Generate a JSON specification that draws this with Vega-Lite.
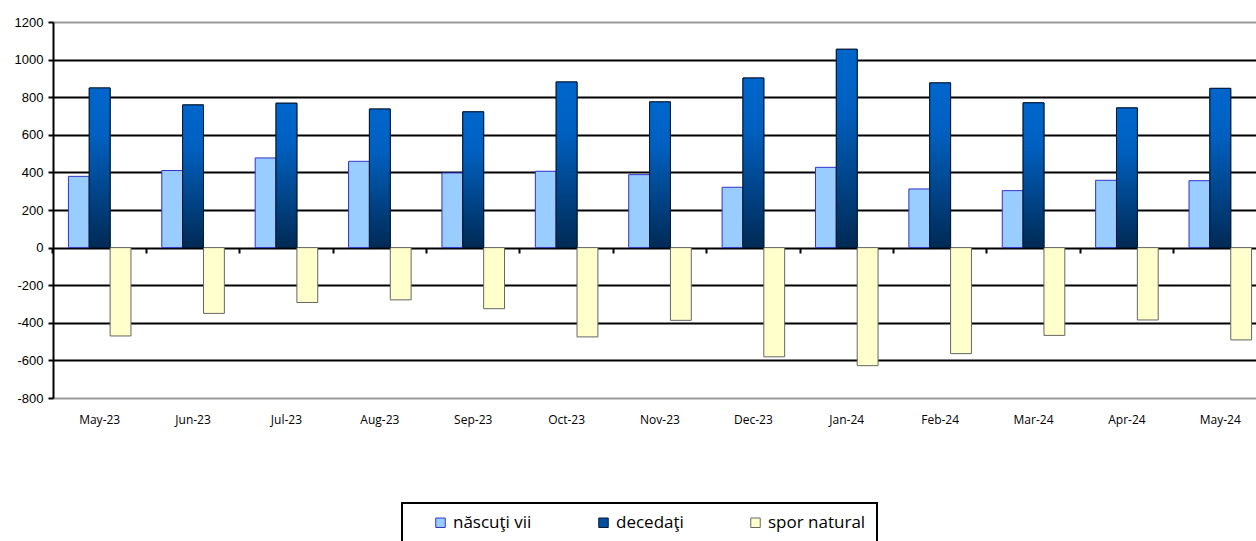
{
  "$schema": "https://vega.github.io/schema/vega-lite/v6.json",
  "autosize": {"type": "none"},
  "padding": {"left": 53, "top": 22, "right": 0, "bottom": 143},
  "width": 1214,
  "height": 376,
  "background": "white",
  "config": {"view": {"stroke": null}},
  "data": {
    "values": [
      {"month": "May-23", "series": "născuţi vii", "value": 379},
      {"month": "May-23", "series": "decedaţi", "value": 849},
      {"month": "May-23", "series": "spor natural", "value": -470},
      {"month": "Jun-23", "series": "născuţi vii", "value": 410},
      {"month": "Jun-23", "series": "decedaţi", "value": 759},
      {"month": "Jun-23", "series": "spor natural", "value": -350},
      {"month": "Jul-23", "series": "născuţi vii", "value": 477},
      {"month": "Jul-23", "series": "decedaţi", "value": 768},
      {"month": "Jul-23", "series": "spor natural", "value": -292},
      {"month": "Aug-23", "series": "născuţi vii", "value": 459},
      {"month": "Aug-23", "series": "decedaţi", "value": 737},
      {"month": "Aug-23", "series": "spor natural", "value": -278},
      {"month": "Sep-23", "series": "născuţi vii", "value": 397},
      {"month": "Sep-23", "series": "decedaţi", "value": 722},
      {"month": "Sep-23", "series": "spor natural", "value": -325},
      {"month": "Oct-23", "series": "născuţi vii", "value": 406},
      {"month": "Oct-23", "series": "decedaţi", "value": 881},
      {"month": "Oct-23", "series": "spor natural", "value": -475},
      {"month": "Nov-23", "series": "născuţi vii", "value": 388},
      {"month": "Nov-23", "series": "decedaţi", "value": 775},
      {"month": "Nov-23", "series": "spor natural", "value": -387},
      {"month": "Dec-23", "series": "născuţi vii", "value": 321},
      {"month": "Dec-23", "series": "decedaţi", "value": 902},
      {"month": "Dec-23", "series": "spor natural", "value": -581},
      {"month": "Jan-24", "series": "născuţi vii", "value": 427},
      {"month": "Jan-24", "series": "decedaţi", "value": 1055},
      {"month": "Jan-24", "series": "spor natural", "value": -628},
      {"month": "Feb-24", "series": "născuţi vii", "value": 312},
      {"month": "Feb-24", "series": "decedaţi", "value": 876},
      {"month": "Feb-24", "series": "spor natural", "value": -564},
      {"month": "Mar-24", "series": "născuţi vii", "value": 303},
      {"month": "Mar-24", "series": "decedaţi", "value": 770},
      {"month": "Mar-24", "series": "spor natural", "value": -467},
      {"month": "Apr-24", "series": "născuţi vii", "value": 358},
      {"month": "Apr-24", "series": "decedaţi", "value": 743},
      {"month": "Apr-24", "series": "spor natural", "value": -385},
      {"month": "May-24", "series": "născuţi vii", "value": 356},
      {"month": "May-24", "series": "decedaţi", "value": 847},
      {"month": "May-24", "series": "spor natural", "value": -491}
    ]
  },
  "resolve": {"axis": {"x": "independent"}},
  "encoding": {
    "y": {
      "field": "value", "type": "quantitative",
      "scale": {"domain": [-800, 1200], "nice": false, "zero": false},
      "axis": {
        "title": null,
        "values": [-800,-600,-400,-200,0,200,400,600,800,1000,1200],
        "labelExpr": "'' + datum.value", "labelOverlap": false,
        "labelFont": "Liberation Sans", "labelFontSize": 13, "labelColor": "#000", "labelPadding": 5,
        "domainColor": "#000", "domainWidth": 2,
        "tickColor": "#000", "tickWidth": 2, "tickSize": 5,
        "grid": true, "gridWidth": 2,
        "gridColor": {"condition": {"test": "datum.value === 1200 || datum.value === -800", "value": "#999999"}, "value": "#000000"}
      }
    },
    "xOffset": {
      "field": "series", "type": "nominal",
      "sort": ["născuţi vii", "decedaţi", "spor natural"],
      "scale": {"domain": ["născuţi vii", "decedaţi", "spor natural"], "paddingInner": 0, "paddingOuter": 0}
    }
  },
  "layer": [
    {
      "mark": {"type": "bar", "strokeWidth": 1},
      "encoding": {
        "x": {
          "field": "month", "type": "nominal",
          "sort": ["May-23","Jun-23","Jul-23","Aug-23","Sep-23","Oct-23","Nov-23","Dec-23","Jan-24","Feb-24","Mar-24","Apr-24","May-24"],
          "scale": {"paddingInner": 0.33, "paddingOuter": 0.165},
          "axis": {"title": null, "labelAngle": 0, "labelFont": "Open Sans", "labelFontSize": 12, "labelColor": "#000", "labelPadding": 16, "ticks": false, "domain": false, "grid": false}
        },
        "color": {
          "field": "series", "type": "nominal",
          "sort": ["născuţi vii", "decedaţi", "spor natural"],
          "scale": {"domain": ["născuţi vii", "decedaţi", "spor natural"], "range": ["#99CCFF", "#00509F", "#FFFFCC"]},
          "legend": {
            "title": null, "orient": "none", "legendX": 349, "legendY": 481,
            "direction": "horizontal", "columns": 3, "columnPadding": 44,
            "padding": 11, "strokeColor": "#000",
            "symbolType": "square", "symbolSize": 90, "symbolStrokeWidth": 1, "symbolOffset": 19,
            "labelFont": "Open Sans", "labelFontSize": 17, "labelColor": "#000", "labelOffset": 4,
            "labelExpr": "datum.label === 'spor natural' ? datum.label + '\u00a0\u00a0\u00a0\u00a0\u00a0\u00a0' : datum.label",
            "encode": {"legend": {"update": {"strokeWidth": {"value": 2}}}}
          }
        },
        "stroke": {
          "field": "series", "type": "nominal",
          "sort": ["născuţi vii", "decedaţi", "spor natural"],
          "scale": {"domain": ["născuţi vii", "decedaţi", "spor natural"], "range": ["#3333CC", "#001A33", "#666666"]},
          "legend": null
        }
      }
    },
    {
      "transform": [{"filter": "datum.series === 'decedaţi'"}],
      "mark": {
        "type": "bar", "strokeWidth": 1, "stroke": "#001A33",
        "fill": {"gradient": "linear", "x1": 0, "y1": 0, "x2": 0, "y2": 1,
          "stops": [{"offset": 0, "color": "#0066CC"}, {"offset": 0.3, "color": "#0060C0"}, {"offset": 1, "color": "#002A55"}]}
      },
      "encoding": {
        "x": {
          "field": "month", "type": "nominal",
          "sort": ["May-23","Jun-23","Jul-23","Aug-23","Sep-23","Oct-23","Nov-23","Dec-23","Jan-24","Feb-24","Mar-24","Apr-24","May-24"],
          "axis": {"title": null, "orient": "bottom", "offset": -150, "labels": false, "ticks": true, "tickColor": "#000", "tickWidth": 2, "tickSize": 5, "domain": false, "grid": false, "bandPosition": -0.2463}
        }
      }
    }
  ]
}
